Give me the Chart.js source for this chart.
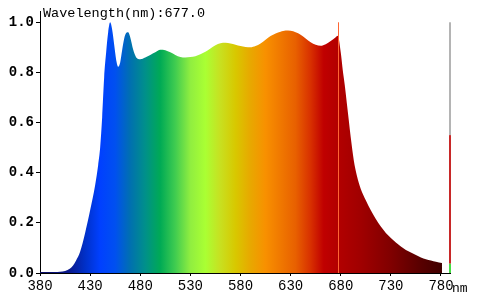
<!DOCTYPE html>
<html>
<head>
<meta charset="utf-8">
<script src="https://cdn.jsdelivr.net/npm/chart.js@4.4.1/dist/chart.umd.min.js"></script>
<style>
  html, body { margin: 0; padding: 0; background: #fff; }
  #wrap { width: 480px; height: 300px; position: relative; }
</style>
</head>
<body>
<div id="wrap"><canvas id="spec"></canvas></div>
<script>
// Spectrum samples (nm -> relative intensity).
const wavelengths = [
  380, 385, 390, 395, 400, 405, 410, 413, 416, 420, 425, 430, 435, 438, 440,
  442, 444, 446, 448, 450, 452, 454, 456, 458, 460, 462, 464, 466, 468, 470,
  473, 476, 480, 485, 490, 495, 500, 505, 510, 515, 520, 525, 530, 535, 540,
  545, 550, 555, 560, 565, 570, 575, 580, 585, 590, 595, 600, 605, 610, 615,
  620, 625, 630, 635, 640, 645, 650, 655, 660, 665, 670, 675, 677, 680, 682,
  684, 686, 688, 690, 693, 696, 700, 705, 710, 715, 720, 725, 730, 735, 740,
  745, 750, 755, 760, 765, 770, 775, 781
];
const intensity = [
  0.004, 0.004, 0.004, 0.004, 0.005, 0.008, 0.018, 0.03, 0.05, 0.085, 0.16, 0.25, 0.35, 0.43, 0.5,
  0.62, 0.78, 0.88, 0.96, 1.0, 0.97, 0.91, 0.85, 0.823, 0.84, 0.89, 0.935, 0.957, 0.96, 0.94,
  0.89, 0.86, 0.853, 0.86, 0.87, 0.88, 0.89, 0.888, 0.88, 0.87, 0.862, 0.86, 0.862, 0.865, 0.872,
  0.882, 0.895, 0.908, 0.916, 0.918, 0.915, 0.91, 0.905, 0.901, 0.9, 0.905, 0.915, 0.93, 0.945, 0.955,
  0.962, 0.967, 0.966, 0.96, 0.95, 0.935, 0.92, 0.91, 0.906, 0.912, 0.925, 0.94, 0.946, 0.88, 0.81,
  0.75, 0.68, 0.61, 0.54, 0.45, 0.39, 0.335, 0.29, 0.25, 0.215, 0.185, 0.16, 0.14, 0.122, 0.106,
  0.092, 0.082, 0.072, 0.062, 0.055, 0.05, 0.045, 0.04
];

// Colour of the fill at a given wavelength.
const colorStopsNm = [380, 410, 425, 440, 455, 470, 485, 500, 515, 530, 545, 560, 575, 590, 605, 620, 635, 650, 663, 680, 700, 730, 760, 781];
const colorStops = [
  "#0a0a60", "#0a1a90", "#0030c8", "#0040ff", "#0050f0", "#0070b0", "#00908a", "#00aa55",
  "#40cc50", "#90ee40", "#aaff33", "#c8e020", "#d8c800", "#e8a800", "#f89000", "#f07800",
  "#e86000", "#d83000", "#c00000", "#b00000", "#a00000", "#800000", "#580000", "#400000"
];

const yTicks = [0, 0.2, 0.4, 0.6, 0.8, 1.0];
const xTicks = [380, 430, 480, 530, 580, 630, 680, 730, 780];

const markerNm = 677.0;
// Side level bar: full height, red level, green level.
const levelTop = 1.0;
const levelRed = 0.55;
const levelGreen = 0.037;

const X_MIN = 380, X_MAX = 789, Y_MAX = 1.045;
const FONT = "'Liberation Mono', 'DejaVu Sans Mono', monospace";

function spectrumFill(ctx) {
  const chart = ctx.chart;
  const area = chart.chartArea;
  if (!area) return "#00f";
  const xs = chart.scales.x;
  const g = chart.ctx.createLinearGradient(xs.getPixelForValue(X_MIN), 0, xs.getPixelForValue(781), 0);
  colorStopsNm.forEach((nm, i) => {
    g.addColorStop((nm - X_MIN) / (781 - X_MIN), colorStops[i]);
  });
  return g;
}

const overlay = {
  id: "specOverlay",
  afterDatasetsDraw(chart) {
    const c = chart.ctx;
    const xs = chart.scales.x, ys = chart.scales.y;
    c.save();
    // marker line at the selected wavelength
    const mx = Math.round(xs.getPixelForValue(markerNm)) + 0.5;
    c.strokeStyle = "#ff6633";
    c.lineWidth = 1;
    c.beginPath();
    c.moveTo(mx, ys.getPixelForValue(1.0));
    c.lineTo(mx, ys.getPixelForValue(0));
    c.stroke();
    // level bar on the right edge
    const bx = Math.round(xs.right) - 1;
    const seg = (from, to, col) => {
      const y0 = ys.getPixelForValue(to), y1 = ys.getPixelForValue(from);
      c.fillStyle = col;
      c.fillRect(bx, y0, 2, y1 - y0);
    };
    seg(levelRed, levelTop, "#b4b4b4");
    seg(levelGreen, levelRed, "#c82828");
    seg(0, levelGreen, "#44dd44");
    // title
    c.fillStyle = "#000";
    c.font = "13.5px " + FONT;
    c.textAlign = "left";
    c.textBaseline = "alphabetic";
    c.fillText("Wavelength(nm):" + markerNm.toFixed(1), 43, 17);
    // unit after the last tick label
    c.font = "13px " + FONT;
    c.fillText("nm", xs.getPixelForValue(780) + 11, 292);
    c.restore();
  }
};

new Chart(document.getElementById("spec"), {
  type: "line",
  data: {
    datasets: [{
      data: wavelengths.map((nm, i) => ({ x: nm, y: intensity[i] })),
      borderWidth: 0,
      pointRadius: 0,
      fill: "origin",
      backgroundColor: spectrumFill,
      cubicInterpolationMode: "monotone"
    }]
  },
  options: {
    responsive: true,
    maintainAspectRatio: false,
    animation: false,
    layout: { padding: { top: 11, right: 30, left: 0, bottom: 0 } },
    plugins: { legend: { display: false }, tooltip: { enabled: false } },
    scales: {
      x: {
        type: "linear",
        min: X_MIN,
        max: X_MAX,
        afterBuildTicks: (s) => { s.ticks = xTicks.map((v) => ({ value: v })); },
        afterFit: (s) => { s.height = 27; },
        grid: { drawOnChartArea: false, tickLength: 3, color: "#000" },
        border: { color: "#000", width: 1 },
        ticks: { color: "#000", padding: 2, font: { family: FONT, size: 14 }, maxRotation: 0 }
      },
      y: {
        min: 0,
        max: Y_MAX,
        afterBuildTicks: (s) => { s.ticks = yTicks.map((v) => ({ value: v })); },
        afterFit: (s) => { s.width = 40; },
        grid: { drawOnChartArea: false, tickLength: 4, color: "#000" },
        border: { color: "#000", width: 1 },
        ticks: {
          color: "#000", padding: 2,
          font: { family: FONT, size: 14, weight: "bold" },
          callback: (v) => v.toFixed(1)
        }
      }
    }
  },
  plugins: [overlay]
});
</script>
</body>
</html>
